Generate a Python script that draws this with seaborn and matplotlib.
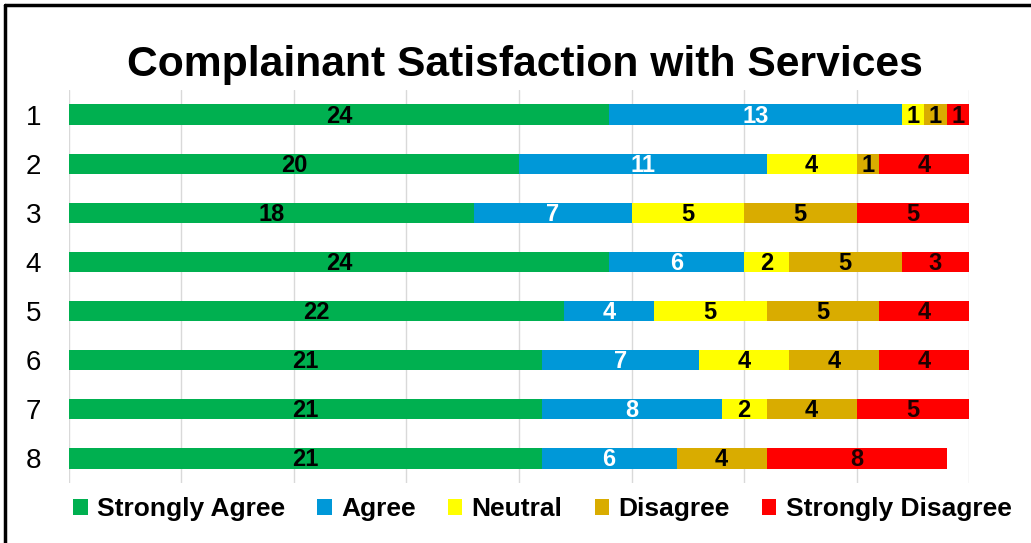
import numpy
import pandas
import seaborn as sns
import matplotlib
matplotlib.use("Agg")
import matplotlib.pyplot as plt
from matplotlib.patches import Patch

rows = ['1', '2', '3', '4', '5', '6', '7', '8']
categories = ['Strongly Agree', 'Agree', 'Neutral', 'Disagree', 'Strongly Disagree']
strongly_agree = [24, 20, 18, 24, 22, 21, 21, 21]
agree = [13, 11, 7, 6, 4, 7, 8, 6]
neutral = [1, 4, 5, 2, 5, 4, 2, 0]
disagree = [1, 1, 5, 5, 5, 4, 4, 4]
strongly_disagree = [1, 4, 5, 3, 4, 4, 5, 8]

colors = ['#00B050', '#0098D8', '#FFFF00', '#D9AC00', '#FF0000']
text_colors = ['black', 'white', 'black', 'black', '#200000']

df = pandas.DataFrame({
    'row': rows,
    'Strongly Agree': strongly_agree,
    'Agree': agree,
    'Neutral': neutral,
    'Disagree': disagree,
    'Strongly Disagree': strongly_disagree,
})
cum = df[categories].cumsum(axis=1)

sns.set_theme(style="white")
plt.rcParams['font.family'] = ['Liberation Sans', 'DejaVu Sans']

fig = plt.figure(figsize=(10.31, 5.43), dpi=100)
ax = fig.add_axes([0.0669, 0.1105, 0.873, 0.7238])

# stacked bars by drawing cumulative totals from the back
for i in range(len(categories) - 1, -1, -1):
    sns.barplot(x=cum[categories[i]], y=df['row'], orient='h', color=colors[i],
                width=0.41, saturation=1, ax=ax, linewidth=0)

for r in range(len(rows)):
    for i, cat in enumerate(categories):
        v = df[cat].iloc[r]
        if v == 0:
            continue
        center = cum[cat].iloc[r] - v / 2
        ax.text(center, r + 0.03, str(v), ha='center', va='center', fontsize=17,
                fontweight='bold', color=text_colors[i])

ax.set_xlim(0, 40)
ax.set_ylim(7.5, -0.5)
ax.set_xticks(numpy.arange(0, 41, 5))
ax.set_xticklabels([])
ax.tick_params(axis='x', length=0)
ax.tick_params(axis='y', length=0, labelsize=20, pad=20, labelcolor='black')
ax.xaxis.grid(True, color='#d9d9d9', linewidth=1)
ax.set_axisbelow(True)
ax.set_xlabel('')
ax.set_ylabel('')
for s in ax.spines.values():
    s.set_visible(False)

fig.text(0.509, 0.88, 'Complainant Satisfaction with Services', ha='center', va='center',
         fontsize=30.7, fontweight='bold', color='black')

handles = [Patch(facecolor=c, edgecolor='none') for c in colors]
leg = fig.legend(handles, categories, loc='center', bbox_to_anchor=(0.526, 0.062), ncol=5,
                 frameon=False, prop={'size': 19, 'weight': 'bold'}, handlelength=0.55,
                 handleheight=0.55, handletextpad=0.35, columnspacing=1.22)
for t in leg.get_texts():
    t.set_color('black')

# frame lines along the top and left edges
fig.add_artist(plt.Line2D([0.005, 1.0], [0.991, 0.991], color='black', linewidth=2.5,
                          transform=fig.transFigure))
fig.add_artist(plt.Line2D([0.005, 0.005], [0.0, 0.991], color='black', linewidth=2.5,
                          transform=fig.transFigure))

fig.savefig('out.png', dpi=100)
